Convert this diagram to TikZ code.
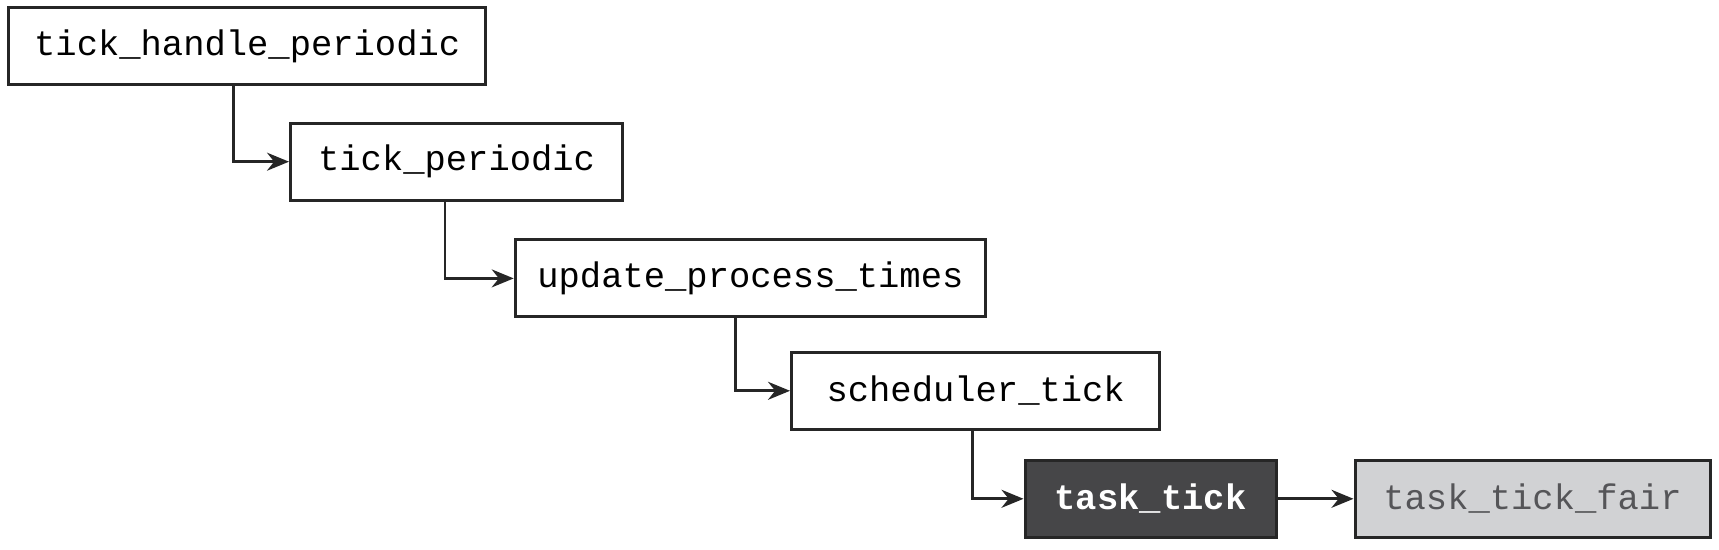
\documentclass[tikz,border=0pt]{standalone}
\usepackage{fontspec}
\setmonofont{Liberation Mono}
\usetikzlibrary{arrows.meta}

\definecolor{darkbox}{RGB}{70,70,72}
\definecolor{lightbox}{RGB}{209,210,212}
\definecolor{lighttext}{RGB}{85,85,88}

\begin{document}
\begin{tikzpicture}[x=0.5pt, y=-0.5pt,
    fnbox/.style={draw=black!85, line width=1.5pt, fill=white, inner sep=0pt,
        minimum height=38.5pt, font=\ttfamily\fontsize{17.75}{20}\selectfont},
    call/.style={draw=black!85, line width=1.3pt, -{Stealth[length=11pt,width=9pt]}}]
    % Page size
    \useasboundingbox (0,0) rectangle (1719,550);

    % Call chain
    \node[fnbox, minimum width=238.5pt] (b1) at (247.2,46) {tick\_handle\_periodic};
    \node[fnbox, minimum width=166.1pt] (b2) at (456.6,161.7) {tick\_periodic};
    \node[fnbox, minimum width=235.2pt] (b3) at (750.4,278.4) {update\_process\_times};
    \node[fnbox, minimum width=184.2pt] (b4) at (975.7,390.8) {scheduler\_tick};
    \node[fnbox, minimum width=125.5pt, fill=darkbox, text=white, font=\ttfamily\bfseries\fontsize{17.75}{20}\selectfont] (b5) at (1150.5,498.8) {task\_tick};
    \node[fnbox, minimum width=177.5pt, fill=lightbox, text=lighttext] (b6) at (1532.5,498.8) {task\_tick\_fair};

    % Arrows down the chain
    \foreach \a/\b/\s in {b1/b2/-6.9, b2/b3/-5.8, b3/b4/-7.4, b4/b5/-1.6} {
        \draw[call] ([xshift=\s pt]\a.south) |- (\b.west);
    }
    \draw[call] (b5) -- (b6);
\end{tikzpicture}
\end{document}
